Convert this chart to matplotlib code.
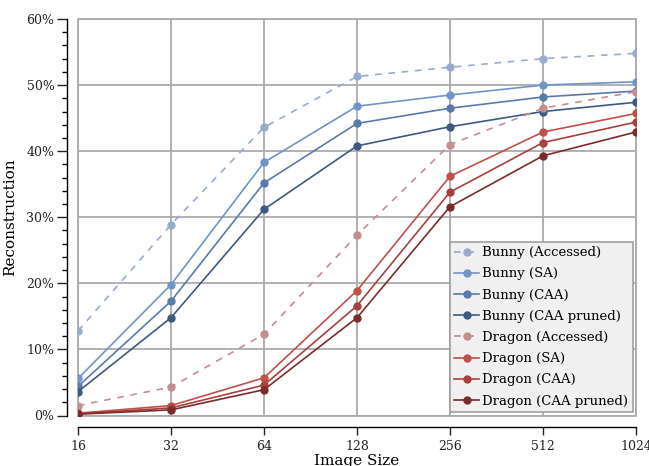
import matplotlib
matplotlib.use("Agg")
import matplotlib.pyplot as plt
from matplotlib.patches import Rectangle
from matplotlib.ticker import FuncFormatter, MultipleLocator, FixedLocator

plt.rcParams['font.family'] = ['DejaVu Serif']

sizes = [16, 32, 64, 128, 256, 512, 1024]
bunny_accessed = [12.8, 28.9, 43.6, 51.3, 52.7, 54.0, 54.8]
bunny_sa = [5.6, 19.8, 38.3, 46.8, 48.5, 50.0, 50.5]
bunny_caa = [4.4, 17.3, 35.2, 44.2, 46.5, 48.2, 49.1]
bunny_caa_pruned = [3.6, 14.8, 31.2, 40.8, 43.7, 46.0, 47.4]
dragon_accessed = [1.5, 4.3, 12.3, 27.3, 41.0, 46.5, 49.0]
dragon_sa = [0.35, 1.5, 5.7, 18.9, 36.2, 42.9, 45.7]
dragon_caa = [0.25, 1.15, 4.6, 16.6, 33.8, 41.3, 44.4]
dragon_caa_pruned = [0.2, 0.85, 3.9, 14.8, 31.6, 39.3, 42.9]

series = [
    ("Bunny (Accessed)", bunny_accessed, "#98abca", True),
    ("Bunny (SA)", bunny_sa, "#7094c8", False),
    ("Bunny (CAA)", bunny_caa, "#5a7aab", False),
    ("Bunny (CAA pruned)", bunny_caa_pruned, "#3e5a80", False),
    ("Dragon (Accessed)", dragon_accessed, "#c48e8e", True),
    ("Dragon (SA)", dragon_sa, "#c24f4a", False),
    ("Dragon (CAA)", dragon_caa, "#a8403e", False),
    ("Dragon (CAA pruned)", dragon_caa_pruned, "#7a2c2c", False),
]

fig = plt.figure(figsize=(6.49, 4.66), dpi=100)
ax = fig.add_axes([78/649, 1-415.5/466, (636-78)/649, (415.5-19)/466])

for label, vals, color, dashed in series:
    ax.plot(sizes, vals, color=color, lw=1.2, marker='o', markersize=5,
            linestyle=(0, (4, 4)) if dashed else '-', label=label, zorder=3)

ax.set_xscale('log', base=2)
ax.set_xlim(16, 1024)
ax.set_ylim(0, 60)
ax.xaxis.set_major_locator(FixedLocator(sizes))
ax.xaxis.set_minor_locator(FixedLocator([]))
ax.xaxis.set_major_formatter(FuncFormatter(lambda v, p: f"{int(round(v))}"))
ax.yaxis.set_major_locator(MultipleLocator(10))
ax.yaxis.set_minor_locator(MultipleLocator(2))
ax.yaxis.set_major_formatter(FuncFormatter(lambda v, p: f"{int(round(v))}%"))

ax.grid(True, which='major', color='#ababab', lw=1.3, zorder=0)
ax.add_patch(Rectangle((0, 0), 1, 1, transform=ax.transAxes, fill=False,
                       edgecolor='#ababab', lw=1.3, clip_on=False, zorder=1))

for s in ['top', 'right']:
    ax.spines[s].set_visible(False)
ax.spines['left'].set_position(('outward', 8))
ax.spines['bottom'].set_position(('outward', 8.5))
ax.spines['left'].set_linewidth(1.0)
ax.spines['bottom'].set_linewidth(1.0)

ax.tick_params(axis='y', which='major', length=7, width=1, labelsize=9, direction='out', colors='#222222', pad=2)
ax.tick_params(axis='y', which='minor', length=3.5, width=1, direction='out')
ax.tick_params(axis='x', which='major', length=6, width=1, labelsize=9, direction='out', colors='#222222', pad=3)

ax.set_xlabel("Image Size", fontsize=11, labelpad=1)
ax.set_ylabel("Reconstruction", fontsize=11, labelpad=7)

leg = ax.legend(loc='lower right', fontsize=9.5, frameon=True, fancybox=False,
                facecolor='#f0f0f0', edgecolor='#a0a0a0', framealpha=1,
                handlelength=1.9, handletextpad=0.2, labelspacing=0.62,
                borderpad=0.35, borderaxespad=0.25)
leg.get_frame().set_linewidth(1.2)

fig.savefig("out.png", dpi=100)
